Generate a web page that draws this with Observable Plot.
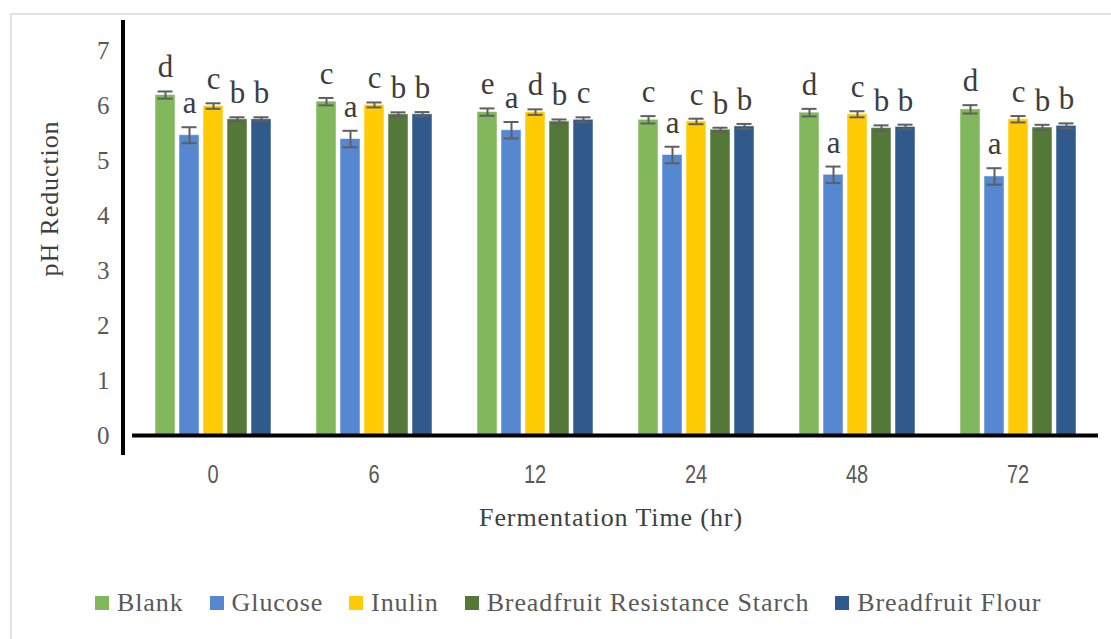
<!DOCTYPE html>
<html>
<head>
<meta charset="utf-8">
<script src="https://cdn.jsdelivr.net/npm/d3@7"></script>
<script src="https://cdn.jsdelivr.net/npm/@observablehq/plot@0.6"></script>
<style>
  html, body { margin: 0; padding: 0; background: #fff; width: 1111px; height: 639px; overflow: hidden; }
  #frame { position: absolute; left: 10px; top: 13px; width: 1200px; height: 700px; border-left: 2px solid #e2e2e2; border-top: 2px solid #e2e2e2; box-sizing: border-box; }
  #chart { position: absolute; left: 0; top: 0; }
  #legend { position: absolute; left: 95px; top: 588px; display: flex; align-items: center; font-family: "Liberation Serif", "DejaVu Serif", serif; font-size: 26px; letter-spacing: 0.9px; color: #595959; white-space: nowrap; }
  .item { display: flex; align-items: center; margin-right: 26px; }
  .sw { width: 14px; height: 14px; margin-right: 8px; }
</style>
</head>
<body>
<div id="frame"></div>
<div id="chart"></div>
<div id="legend"></div>
<script>
const times = ["0", "6", "12", "24", "48", "72"];
const series = ["Blank", "Glucose", "Inulin", "Breadfruit Resistance Starch", "Breadfruit Flour"];
const colors = ["#80b85b", "#5687d1", "#ffcb05", "#547837", "#2f5a8b"];
const yTicks = [0, 1, 2, 3, 4, 5, 6, 7];

// mean pH per series, one value per time
const blank    = [6.19, 6.07, 5.88, 5.74, 5.87, 5.93];
const glucose  = [5.46, 5.39, 5.55, 5.10, 4.74, 4.71];
const inulin   = [5.99, 6.01, 5.88, 5.71, 5.84, 5.75];
const brs      = [5.75, 5.84, 5.71, 5.56, 5.59, 5.60];
const flour    = [5.75, 5.84, 5.74, 5.62, 5.61, 5.63];

// error (± SD)
const blankErr   = [0.065, 0.067, 0.067, 0.067, 0.069, 0.076];
const glucoseErr = [0.145, 0.15, 0.15, 0.15, 0.15, 0.15];
const inulinErr  = [0.05, 0.045, 0.05, 0.05, 0.055, 0.058];
const brsErr     = [0.036, 0.036, 0.036, 0.036, 0.049, 0.049];
const flourErr   = [0.036, 0.04, 0.045, 0.045, 0.042, 0.045];

// significance letters
const blankLet   = ["d", "c", "e", "c", "d", "d"];
const glucoseLet = ["a", "a", "a", "a", "a", "a"];
const inulinLet  = ["c", "c", "d", "c", "c", "c"];
const brsLet     = ["b", "b", "b", "b", "b", "b"];
const flourLet   = ["b", "b", "c", "b", "b", "b"];

const vals = [blank, glucose, inulin, brs, flour];
const errs = [blankErr, glucoseErr, inulinErr, brsErr, flourErr];
const lets = [blankLet, glucoseLet, inulinLet, brsLet, flourLet];

const data = [];
times.forEach((t, i) => {
  series.forEach((s, j) => {
    data.push({time: t, series: s, value: vals[j][i], err: errs[j][i], letter: lets[j][i]});
  });
});

const SERIF = "'Liberation Serif', 'DejaVu Serif', serif";
const NARROW = "'Liberation Sans Narrow', 'Liberation Sans', sans-serif";

const plot = Plot.plot({
  width: 1111,
  height: 545,
  marginLeft: 131,
  marginRight: 13,
  marginTop: 50,
  marginBottom: 110,
  style: {background: "transparent", overflow: "visible", fontFamily: SERIF},
  fx: {domain: times, padding: 0, label: null},
  x: {domain: series, paddingInner: 0.18, paddingOuter: 0.88, axis: null},
  y: {domain: [0, 7], label: null},
  color: {domain: series, range: colors},
  marks: [
    Plot.barY(data, {fx: "time", x: "series", y: "value", fill: "series", stroke: "#ffffff", strokeOpacity: 0.5, strokeWidth: 1}),
    Plot.ruleX(data, {fx: "time", x: "series", y1: d => d.value - d.err, y2: d => d.value + d.err, stroke: "#5f5f5f", strokeWidth: 2}),
    Plot.tickY(data, {fx: "time", x: "series", y: d => d.value - d.err, stroke: "#5f5f5f", strokeWidth: 2, inset: 2.5}),
    Plot.tickY(data, {fx: "time", x: "series", y: d => d.value + d.err, stroke: "#5f5f5f", strokeWidth: 2, inset: 2.5}),
    Plot.text(data, {fx: "time", x: "series", y: d => d.value + d.err, text: "letter", dy: -14, lineAnchor: "bottom", fontSize: 31, fill: "#3d3d3d", fontFamily: SERIF}),
    Plot.ruleY([0], {stroke: "#000", strokeWidth: 4}),
    Plot.axisY({ticks: yTicks, tickFormat: d => String(d), tickSize: 0, tickPadding: 23, fontSize: 25, fill: "#595959", label: null}),
    Plot.axisFx({anchor: "bottom", tickSize: 0, tickPadding: 29, fontSize: 25, fill: "#595959", label: null})
  ]
});
document.getElementById("chart").appendChild(plot);

const svg = d3.select(plot);
svg.selectAll("[aria-label='y-axis tick label'] text").style("font-family", SERIF);
svg.selectAll("[aria-label='fx-axis tick label'] text")
  .style("font-family", NARROW).style("font-stretch", "condensed")
  .each(function() {
    const t = this.getAttribute("transform") || "";
    this.setAttribute("transform", (t + " scale(0.8,1.04)").trim());
  });
const ys = plot.scale("y");
// y axis line (Excel-style, offset left of plot area)
svg.append("line")
  .attr("x1", 123).attr("x2", 123)
  .attr("y1", ys.apply(7) - 30).attr("y2", ys.apply(0) + 20)
  .attr("stroke", "#000").attr("stroke-width", 4);
// axis titles
svg.append("text")
  .attr("transform", `translate(52,${ys.apply(4.3)}) rotate(-90)`)
  .attr("text-anchor", "middle").attr("dominant-baseline", "middle")
  .style("font-family", SERIF).style("letter-spacing", "0.9px").attr("font-size", 26).attr("fill", "#404040")
  .text("pH Reduction");
svg.append("text")
  .attr("x", 611).attr("y", 520)
  .attr("text-anchor", "middle").attr("dominant-baseline", "middle")
  .style("font-family", SERIF).style("letter-spacing", "0.9px").attr("font-size", 26).attr("fill", "#404040")
  .text("Fermentation Time (hr)");

// legend
const leg = document.getElementById("legend");
series.forEach((s, j) => {
  const it = document.createElement("div");
  it.className = "item";
  const sw = document.createElement("div");
  sw.className = "sw";
  sw.style.background = colors[j];
  const tx = document.createElement("span");
  tx.textContent = s;
  it.appendChild(sw); it.appendChild(tx);
  leg.appendChild(it);
});
</script>
</body>
</html>
